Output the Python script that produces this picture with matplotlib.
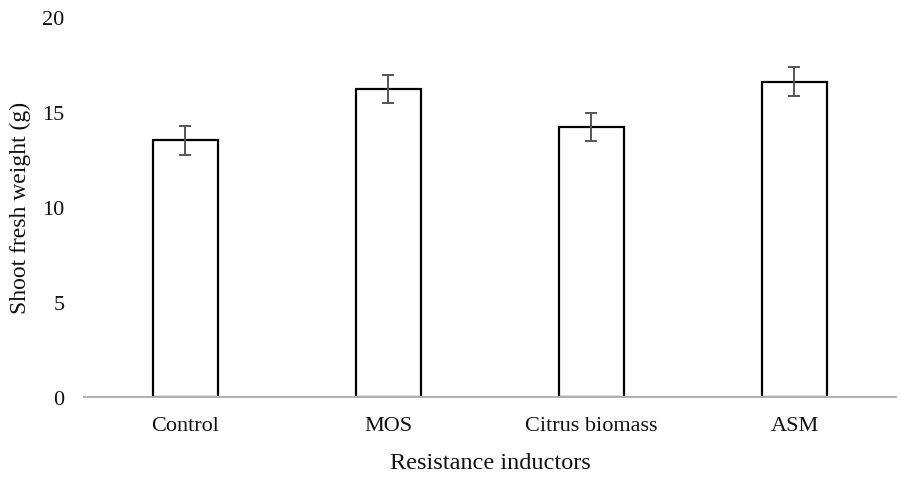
import matplotlib
matplotlib.use("Agg")
import matplotlib.pyplot as plt

# values
inductors = ["Control", "MOS", "Citrus biomass", "ASM"]
weight = [13.5, 16.2, 14.2, 16.6]
err = [0.75, 0.75, 0.75, 0.75]

plt.rcParams['font.family'] = ['Liberation Serif', 'DejaVu Serif']

fig = plt.figure(figsize=(9.02, 4.85), dpi=100)
ax = fig.add_axes([0.0931, 0.1794, 0.9002, 0.7835])

x = range(len(inductors))
ax.bar(x, weight, width=0.32, color='white', edgecolor='black', linewidth=1.6, zorder=2)
ax.errorbar(x, weight, yerr=err, fmt='none', ecolor='#555555', elinewidth=1.4,
            capsize=4.5, capthick=1.4, zorder=3)

ax.set_xlim(-0.5, 3.5)
ax.set_ylim(0, 20)
ax.set_yticks([0, 5, 10, 15, 20])
ax.set_xticks(list(x))
ax.set_xticklabels(inductors)

for s in ['top', 'right', 'left']:
    ax.spines[s].set_visible(False)
ax.spines['bottom'].set_color('#b0b0b0')
ax.spines['bottom'].set_linewidth(1.4)
ax.tick_params(axis='both', length=0, labelsize=16, colors='#111111')
ax.tick_params(axis='y', pad=14)
ax.tick_params(axis='x', pad=14)

ax.set_xlabel("Resistance inductors", fontsize=17.5, color='#111111', labelpad=12)
ax.set_ylabel("Shoot fresh weight (g)", fontsize=17, color='#111111', labelpad=8)

fig.savefig("out.png", dpi=100)
